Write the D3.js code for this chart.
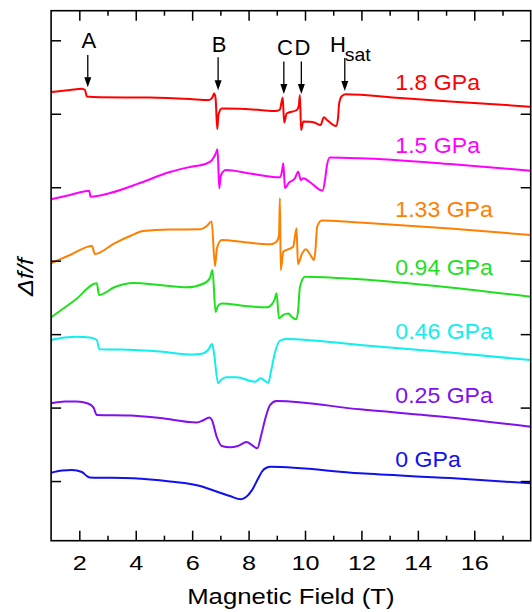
<!DOCTYPE html>
<html>
<head>
<meta charset="utf-8">
<script src="https://cdn.jsdelivr.net/npm/d3@7"></script>
<style>
  body { margin: 0; background: #fff; }
  text { font-family: "Liberation Sans", Arial, sans-serif; }
</style>
</head>
<body>
<div id="chart"></div>
<script>
// data: [field (T), delta f / f (offset units, 1 per y tick)]
const curve18 = [[1.00,5.296],[1.67,5.323],[2.09,5.341],[2.20,5.323],[2.27,5.235],[2.73,5.225],[4.50,5.221],[5.92,5.201],[6.56,5.187],[6.67,5.201],[6.74,5.242],[6.78,5.276],[6.83,5.214],[6.89,4.792],[6.93,4.983],[7.05,5.072],[7.69,5.069],[8.40,5.051],[8.97,5.038],[9.11,5.058],[9.21,5.221],[9.26,4.881],[9.35,5.004],[9.71,5.051],[9.78,5.106],[9.82,5.255],[9.86,4.779],[9.94,4.895],[10.17,4.891],[10.35,4.878],[10.55,4.847],[10.67,4.952],[10.78,4.915],[11.10,4.833],[11.17,4.942],[11.21,5.142],[11.31,5.242],[11.45,5.265],[13.36,5.214],[15.14,5.167],[18.0,5.096]]
const curve15 = [[1.00,3.835],[1.67,3.894],[2.35,3.952],[2.40,3.871],[3.09,3.921],[4.15,4.057],[5.21,4.207],[5.92,4.275],[6.51,4.323],[6.70,4.370],[6.83,4.452],[6.90,4.516],[6.96,3.985],[7.02,4.166],[7.20,4.234],[8.05,4.187],[9.11,4.135],[9.18,4.207],[9.23,4.325],[9.29,3.985],[9.41,4.053],[9.64,4.121],[9.76,4.211],[9.85,4.098],[9.94,4.121],[10.17,4.071],[10.62,3.952],[10.71,4.098],[10.77,4.279],[10.88,4.404],[11.95,4.394],[15.14,4.316],[18.0,4.225]]
const curve133 = [[1.00,2.964],[1.67,3.077],[2.45,3.200],[2.55,3.091],[3.26,3.240],[3.80,3.336],[4.27,3.404],[5.21,3.424],[6.28,3.427],[6.52,3.472],[6.69,3.533],[6.81,2.927],[6.88,3.172],[7.05,3.281],[7.87,3.250],[8.76,3.223],[8.99,3.258],[9.08,3.349],[9.11,3.849],[9.14,2.873],[9.23,3.122],[9.58,3.190],[9.70,3.440],[9.75,2.954],[9.89,3.091],[10.03,3.155],[10.17,3.091],[10.32,3.009],[10.37,3.145],[10.43,3.462],[10.59,3.547],[11.95,3.519],[15.14,3.438],[18.0,3.349]]
const curve094 = [[1.00,2.229],[1.85,2.464],[2.62,2.692],[2.70,2.532],[3.26,2.641],[3.91,2.696],[4.86,2.669],[5.81,2.637],[6.45,2.696],[6.63,2.764],[6.72,2.873],[6.83,2.301],[6.91,2.383],[7.05,2.417],[7.87,2.383],[8.64,2.365],[8.83,2.410],[8.93,2.478],[8.99,2.556],[9.08,2.215],[9.22,2.260],[9.41,2.281],[9.53,2.233],[9.68,2.202],[9.75,2.301],[9.82,2.641],[10.00,2.782],[11.95,2.746],[15.14,2.635],[18.0,2.509]]
const curve046 = [[1.00,1.920],[1.49,1.954],[1.91,1.965],[2.38,1.954],[2.62,1.920],[2.71,1.793],[3.44,1.790],[4.86,1.763],[6.04,1.722],[6.38,1.736],[6.56,1.784],[6.71,1.865],[6.77,1.756],[6.92,1.330],[7.02,1.375],[7.22,1.412],[7.58,1.412],[8.23,1.352],[8.43,1.398],[8.54,1.375],[8.70,1.338],[8.79,1.484],[8.93,1.739],[9.11,1.910],[9.32,1.933],[11.95,1.852],[15.14,1.750],[18.0,1.647]]
const curve025 = [[1.00,1.058],[1.49,1.082],[1.91,1.082],[2.31,1.055],[2.50,1.003],[2.62,0.899],[3.80,0.892],[4.86,0.858],[6.16,0.796],[6.38,0.824],[6.61,0.865],[6.70,0.831],[6.87,0.603],[7.05,0.477],[7.34,0.459],[7.62,0.477],[7.93,0.531],[8.12,0.490],[8.31,0.445],[8.44,0.613],[8.58,0.831],[8.76,1.035],[8.99,1.089],[11.95,0.976],[15.14,0.865],[18.0,0.739]]
const curve0 = [[1.00,0.113],[1.39,0.143],[1.74,0.150],[2.09,0.123],[2.27,0.068],[2.38,0.050],[3.91,0.037],[5.21,-0.007],[6.28,-0.068],[6.81,-0.136],[7.34,-0.204],[7.73,-0.249],[7.91,-0.218],[8.12,-0.123],[8.33,0.027],[8.47,0.127],[8.65,0.184],[8.78,0.195],[11.95,0.105],[15.14,0.041],[18.0,-0.031]]

const curves = [curve18, curve15, curve133, curve094, curve046, curve025, curve0]
const pressures = ["1.8 GPa", "1.5 GPa", "1.33 GPa", "0.94 GPa", "0.46 GPa", "0.25 GPa", "0 GPa"]
const colors = ["#ff0000", "#ff00ff", "#ff8000", "#1fe01f", "#10eeee", "#8010f0", "#1010f0"]
const labelField = 13.2
const labelLevel = [5.323, 4.462, 3.598, 2.805, 1.929, 1.062, 0.195]

const fieldTicks = [2, 4, 6, 8, 10, 12, 14, 16]
const minorTicks = [3, 5, 7, 9, 11, 13, 15, 17]
const levelTicks = [0, 1, 2, 3, 4, 5, 6]

// transition markers
const markNames = ["A", "B", "C", "D", "H"]
const markField = [2.30, 6.92, 9.25, 9.87, 11.41]
const arrowTop = [5.80, 5.77, 5.71, 5.71, 5.76]
const arrowTip = [5.36, 5.32, 5.27, 5.27, 5.31]
const markLevel = [5.891, 5.845, 5.80, 5.80, 5.845]

const W = 532, H = 612
const margin = {top: 10.7, right: 1.3, bottom: 71.3, left: 51.1}
const innerW = W - margin.left - margin.right
const innerH = H - margin.top - margin.bottom

const svg = d3.select("#chart").append("svg")
  .attr("width", W)
  .attr("height", H)

const g = svg.append("g")
  .attr("transform", `translate(${margin.left},${margin.top})`)

const x = d3.scaleLinear().domain([1, 18]).range([0, innerW])
const y = d3.scaleLinear().domain([-0.812, 6.403]).range([innerH, 0])

// the original figure's lettering is a bit wider than Arial
function label(parent, px, py, txt, size, sx) {
  return parent.append("text")
    .attr("transform", `translate(${px},${py})scale(${sx},1)`)
    .style("font-size", size + "px")
    .text(txt)
}

// curves
const line = d3.line()
  .x(d => x(d[0]))
  .y(d => y(d[1]))
  .curve(d3.curveMonotoneX)

g.selectAll("path.curve")
  .data(curves)
  .enter()
  .append("path")
  .attr("class", "curve")
  .attr("d", line)
  .attr("fill", "none")
  .attr("stroke", (d, i) => colors[i])
  .attr("stroke-width", 2)
  .attr("stroke-linejoin", "round")

// pressure labels
pressures.forEach((p, i) => {
  label(g, x(labelField), y(labelLevel[i]), p, 22, 1.05).attr("fill", colors[i])
})

// axes, ticks pointing inward
function styleAxis(sel) {
  sel.select(".domain").remove()
  sel.selectAll(".tick line").attr("stroke", "#000").attr("stroke-width", 1.5)
}

g.append("g")
  .attr("transform", `translate(0,${innerH})`)
  .call(d3.axisBottom(x).tickValues(fieldTicks).tickSize(-10).tickPadding(14.4))
  .call(styleAxis)
  .call(a => a.selectAll("text")
    .style("font-size", "21px")
    .style("font-family", "'Liberation Sans', Arial, sans-serif")
    .attr("fill", "#000")
    .attr("transform", "scale(1.2,1)"))

g.append("g")
  .attr("transform", `translate(0,${innerH})`)
  .call(d3.axisBottom(x).tickValues(minorTicks).tickSize(-5).tickFormat(""))
  .call(styleAxis)

g.append("g")
  .call(d3.axisTop(x).tickValues(fieldTicks).tickSize(-10).tickFormat(""))
  .call(styleAxis)

g.append("g")
  .call(d3.axisTop(x).tickValues(minorTicks).tickSize(-5).tickFormat(""))
  .call(styleAxis)

g.append("g")
  .call(d3.axisLeft(y).tickValues(levelTicks).tickSize(-10).tickFormat(""))
  .call(styleAxis)

g.append("g")
  .attr("transform", `translate(${innerW},0)`)
  .call(d3.axisRight(y).tickValues(levelTicks).tickSize(-10).tickFormat(""))
  .call(styleAxis)

g.append("rect")
  .attr("width", innerW)
  .attr("height", innerH)
  .attr("fill", "none")
  .attr("stroke", "#000")
  .attr("stroke-width", 1.6)

// axis titles
label(svg, margin.left + innerW / 2, 604, "Magnetic Field (T)", 23, 1.12)
  .attr("text-anchor", "middle")

svg.append("text")
  .attr("transform", `translate(33,277)rotate(-90)scale(1.15,1)`)
  .attr("text-anchor", "middle")
  .style("font-size", "22px")
  .style("font-style", "italic")
  .text("\u0394f/f")

// arrows and letters
markNames.forEach((name, i) => {
  const ax = x(markField[i])
  const y0 = y(arrowTop[i])
  const y1 = y(arrowTip[i])
  g.append("line")
    .attr("x1", ax).attr("x2", ax)
    .attr("y1", y0).attr("y2", y1 - 8)
    .attr("stroke", "#000")
    .attr("stroke-width", 1.3)
  g.append("path")
    .attr("d", `M${ax - 3.5},${y1 - 10}L${ax + 3.5},${y1 - 10}L${ax},${y1}Z`)
    .attr("fill", "#000")
  if (name === "H") {
    label(g, ax + 1, y(markLevel[i]), "H", 22, 1.0).attr("text-anchor", "end")
    label(g, ax, y(markLevel[i]) + 9.3, "sat", 18, 1.08)
  } else {
    label(g, ax + 1, y(markLevel[i]), name, 22, 1.0).attr("text-anchor", "middle")
  }
})
</script>
</body>
</html>
